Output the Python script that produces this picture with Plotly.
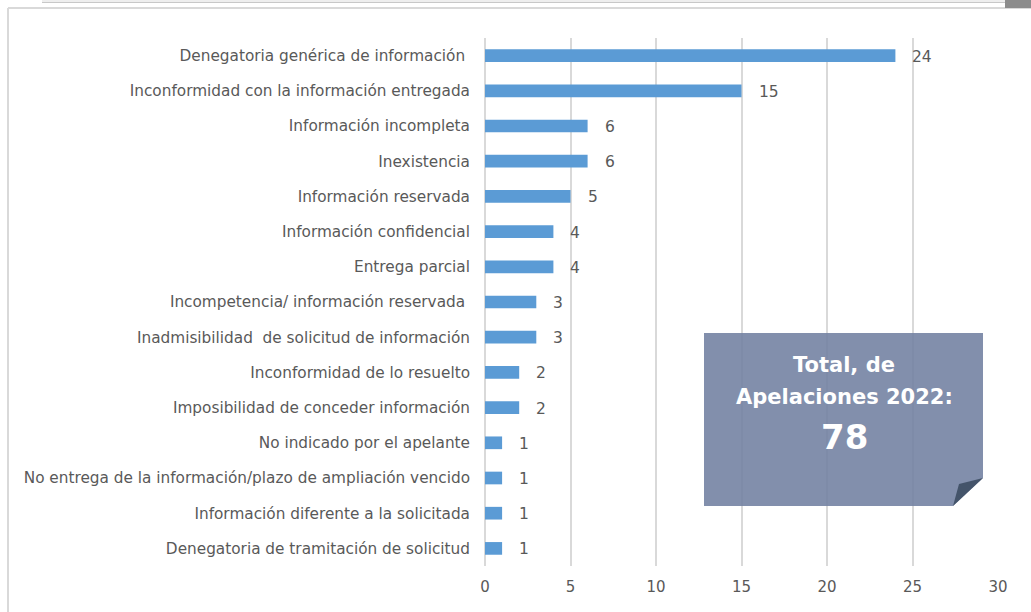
import plotly.graph_objects as go

categories = [
    "Denegatoria genérica de información\u00a0",
    "Inconformidad con la información entregada",
    "Información incompleta",
    "Inexistencia",
    "Información reservada",
    "Información confidencial",
    "Entrega parcial",
    "Incompetencia/ información reservada\u00a0",
    "Inadmisibilidad \u00a0de solicitud de información",
    "Inconformidad de lo resuelto",
    "Imposibilidad de conceder información",
    "No indicado por el apelante",
    "No entrega de la información/plazo de ampliación vencido",
    "Información diferente a la solicitada",
    "Denegatoria de tramitación de solicitud",
]
values = [24, 15, 6, 6, 5, 4, 4, 3, 3, 2, 2, 1, 1, 1, 1]
x_ticks = [0, 5, 10, 15, 20, 25, 30]
box_lines = ["Total, de", "Apelaciones 2022:", "78"]

W, H = 1031, 612
L, R, T, B = 485, 998, 38, 566

def px(x):
    return (x - L) / (R - L)

def py(y):
    return (B - y) / (B - T)

FONT = "DejaVu Sans"
GRAY = "#595959"

fig = go.Figure()
fig.add_trace(go.Bar(
    x=values, y=categories, orientation="h",
    marker=dict(color="#5B9BD5", line=dict(width=0)),
    width=0.36, hoverinfo="skip",
))

for c, v in zip(categories, values):
    fig.add_annotation(x=v, y=c, text=str(v), showarrow=False,
                       xanchor="left", xshift=15, yshift=-1,
                       font=dict(family=FONT, size=15.5, color=GRAY))

shapes = []
# outer frame
shapes.append(dict(type="line", xref="paper", yref="paper",
                   x0=px(8), x1=px(1031), y0=py(8), y1=py(8),
                   line=dict(color="#d9d9d9", width=2)))
shapes.append(dict(type="line", xref="paper", yref="paper",
                   x0=px(8), x1=px(8), y0=py(8), y1=py(612),
                   line=dict(color="#d9d9d9", width=2)))
# top strip
shapes.append(dict(type="rect", xref="paper", yref="paper",
                   x0=px(42), x1=px(1005), y0=py(0), y1=py(2),
                   fillcolor="#eeeeee", line=dict(width=0)))
shapes.append(dict(type="line", xref="paper", yref="paper",
                   x0=px(42), x1=px(1005), y0=py(2.5), y1=py(2.5),
                   line=dict(color="#c8c8c8", width=1)))
shapes.append(dict(type="rect", xref="paper", yref="paper",
                   x0=px(1005), x1=px(1031), y0=py(0), y1=py(8),
                   fillcolor="#8c8c8c", line=dict(width=0)))
# text box with folded corner
pts = [(704, 333), (983, 333), (983, 478), (953, 506), (704, 506)]
path = "M " + " L ".join(f"{px(a)},{py(b)}" for a, b in pts) + " Z"
shapes.append(dict(type="path", xref="paper", yref="paper", path=path,
                   fillcolor="rgba(113,128,160,0.88)", line=dict(width=0),
                   layer="above"))
tri = [(983, 478), (959, 484), (953, 506)]
path2 = "M " + " L ".join(f"{px(a)},{py(b)}" for a, b in tri) + " Z"
shapes.append(dict(type="path", xref="paper", yref="paper", path=path2,
                   fillcolor="#44546A", line=dict(width=0), layer="above"))

for txt, yy, sz in [(box_lines[0], 365, 21), (box_lines[1], 397, 21), (box_lines[2], 437, 34)]:
    fig.add_annotation(xref="paper", yref="paper", x=px(844), y=py(yy),
                       xanchor="center", yanchor="middle",
                       text="<b>" + txt + "</b>", showarrow=False,
                       font=dict(family=FONT, size=sz, color="white"))

fig.update_layout(
    width=W, height=H,
    margin=dict(l=L, r=W - R, t=T, b=H - B),
    paper_bgcolor="white", plot_bgcolor="white",
    showlegend=False, shapes=shapes,
    font=dict(family=FONT, size=14, color=GRAY),
)
fig.update_xaxes(range=[0, 30], tickvals=x_ticks, showgrid=True,
                 gridcolor="#d9d9d9", gridwidth=2, zeroline=True,
                 zerolinecolor="#d9d9d9", zerolinewidth=2,
                 showline=False, ticks="", ticklabelstandoff=10,
                 tickfont=dict(family=FONT, size=15, color=GRAY),
                 fixedrange=True)
fig.update_yaxes(categoryorder="array", categoryarray=categories,
                 autorange="reversed", showgrid=False, showline=False,
                 ticks="", ticklabelstandoff=14,
                 tickfont=dict(family=FONT, size=15.3, color=GRAY),
                 fixedrange=True)

fig.write_html("out.html", config={"displayModeBar": False},
               post_script="document.body.style.margin='0';document.body.style.overflow='hidden';")
